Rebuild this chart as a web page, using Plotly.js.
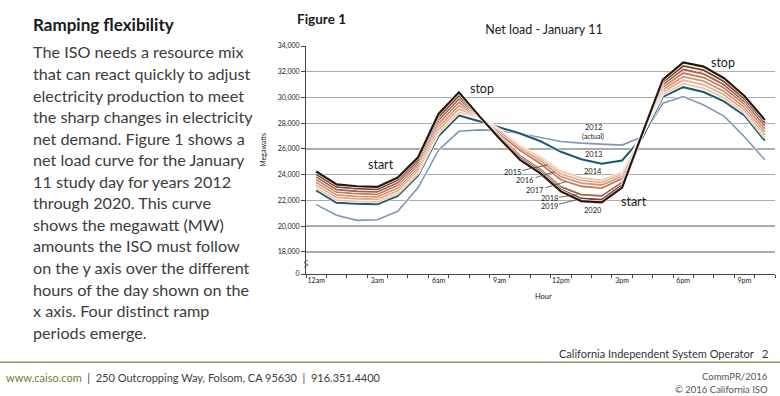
<!DOCTYPE html>
<html>
<head>
<meta charset="utf-8">
<script src="https://cdn.plot.ly/plotly-3.0.1.min.js"></script>
<style>
html,body{margin:0;padding:0;background:#fff;}
#chart{width:780px;height:396px;}
</style>
</head>
<body>
<div id="chart"></div>
<script>
// ---- data ----
const hours = [0,1,2,3,4,5,6,7,8,9,10,11,12,13,14,15,16,17,18,19,20,21,22];
const tickHours = [0,3,6,9,12,15,18,21];
const tickLabels = ['12am','3am','6am','9am','12pm','3pm','6pm','9pm'];
const yTickVals = [16280,18000,20000,22000,24000,26000,28000,30000,32000,34000];
const yTickText = ['0','18,000','20,000','22,000','24,000','26,000','28,000','30,000','32,000','34,000'];

const years = ['2012','2013','2014','2015','2016','2017','2018','2019','2020'];
const y2012 = [21670,20850,20450,20500,21150,23000,25900,27370,27480,27420,27200,26900,26580,26450,26380,26300,26950,29550,30070,29420,28550,26950,25160];
const y2013 = [22780,21820,21740,21700,22350,23940,27000,28600,28150,27700,27200,26600,25780,25200,24850,25100,26900,30050,30800,30420,29700,28600,26650];
const y2014 = [22990,22020,21930,21890,22550,24140,27250,28860,28450,27500,26250,25350,24250,23750,23550,24150,27150,30240,31070,30700,29960,28820,26880];
const y2015 = [23200,22230,22130,22090,22760,24340,27490,29110,28470,27380,26150,25200,24050,23550,23380,24000,27170,30430,31350,30990,30210,29030,27110];
const y2016 = [23410,22430,22320,22280,22960,24540,27740,29370,28490,27250,26050,25050,23850,23350,23200,23850,27190,30620,31620,31270,30470,29250,27340];
const y2017 = [23620,22640,22520,22470,23170,24750,27980,29630,28510,27120,25900,24850,23600,23100,22950,23700,27200,30810,31900,31550,30730,29470,27570];
const y2018 = [23830,22840,22710,22670,23370,24950,28230,29890,28520,27000,25450,24400,23050,22450,22350,23400,27210,31000,32170,31830,30990,29690,27800];
const y2019 = [24040,23050,22910,22860,23580,25150,28480,30140,28540,26900,25300,24250,22850,22150,22050,23200,27220,31190,32450,32120,31240,29900,28030];
const y2020 = [24250,23250,23100,23050,23780,25350,28720,30400,28550,26800,25150,24100,22700,21950,21850,23000,27230,31380,32720,32400,31500,30120,28260];

const seriesValues = [y2012,y2013,y2014,y2015,y2016,y2017,y2018,y2019,y2020];
const seriesColors = ['#7e97b8','#1b5a72','#f0c6aa','#e4ab8c','#d79272','#c57a5c','#a85f45','#74402d','#2a150b'];
const seriesWidths = [1.6,2,1.8,1.8,1.8,1.8,1.8,1.8,2.2];

// ---- layout geometry (pixels) ----
const W = 780, H = 396;
const L = 306, R = 775, T = 46, B = 274.5;
const px = x => (x - L) / (R - L);
const py = y => (B - y) / (B - T);

const FONT = 'Lato, "Open Sans", sans-serif';

const traces = [];
for (let i = 0; i < years.length; i++) {
  traces.push({
    x: hours, y: seriesValues[i], type: 'scatter', mode: 'lines',
    line: {color: '#ffffff', width: seriesWidths[i] + 1.2},
    hoverinfo: 'skip', showlegend: false
  });
  traces.push({
    x: hours, y: seriesValues[i], type: 'scatter', mode: 'lines', name: years[i],
    line: {color: seriesColors[i], width: seriesWidths[i]},
    showlegend: false
  });
}

const paraLines = [
  'The ISO needs a resource mix',
  'that can react quickly to adjust',
  'electricity production to meet',
  'the sharp changes in electricity',
  'net demand. Figure 1 shows a',
  'net load curve for the January',
  '11 study day for years 2012',
  'through 2020. This curve',
  'shows the megawatt (MW)',
  'amounts the ISO must follow',
  'on the y axis over the different',
  'hours of the day shown on the',
  'x axis. Four distinct ramp',
  'periods emerge.'
];

const ann = [];
function txt(text, x, y, size, opts) {
  ann.push(Object.assign({
    text: text, xref: 'paper', yref: 'paper', x: px(x), y: py(y),
    xanchor: 'left', yanchor: 'middle', showarrow: false,
    font: {family: FONT, size: size, color: '#2b2b2b'}
  }, opts || {}));
}
txt('<b>Ramping flexibility</b>', 31, 24, 17, {font: {family: FONT, size: 17, color: '#1a1a1a'}});
paraLines.forEach((s, i) => txt(s, 31, 52 + i * 21.6, 16.2, {font: {family: FONT, size: 16.2, color: '#3c3c3c'}}));

txt('<b>Figure 1</b>', 295, 19, 13.5, {font: {family: FONT, size: 13.5, color: '#1a1a1a'}});

// axis titles
txt('Megawatts', 263, 150, 7, {xanchor: 'center', textangle: -90, font: {family: FONT, size: 7, color: '#222'}});
txt('Hour', 543, 297, 7.5, {xanchor: 'center', font: {family: FONT, size: 7.5, color: '#222'}});

// in-chart labels
const dx = x => (x - L) / (R - L) * 23 - 0.5;
const dv = y => 34000 - (y - T) * (34000 - 16280) / (B - T);
function lab(text, x, y, size) {
  ann.push({text: text, xref: 'x', yref: 'y', x: dx(x), y: dv(y), showarrow: false,
    xanchor: 'center', yanchor: 'middle', font: {family: FONT, size: size, color: '#1a1a1a'}});
}
lab('start', 381, 165, 12.5);
lab('stop', 482, 89, 12.5);
lab('start', 634, 202, 12.5);
lab('stop', 723, 63, 12.5);
lab('2012', 593, 128, 7.5);
lab('(actual)', 593, 137, 7);
lab('2013', 593, 155, 7.5);
lab('2014', 593, 172, 7.5);
lab('2020', 593, 211, 7.5);
function lead(text, tipX, tipY, tx, ty) {
  ann.push({text: text, xref: 'x', yref: 'y', x: dx(tipX), y: dv(tipY),
    ax: tx - tipX, ay: ty - tipY, showarrow: true, arrowhead: 0, arrowwidth: 0.8,
    arrowcolor: '#444', standoff: 0,
    font: {family: FONT, size: 7.5, color: '#1a1a1a'}});
}
lead('2015', 548, 165, 512, 173);
lead('2016', 555, 172, 525, 181);
lead('2017', 566, 182, 535, 191);
lead('2018', 577, 195, 549, 199);
lead('2019', 577, 200, 549, 207);

// footer
txt('California Independent System Operator&nbsp;&nbsp;&nbsp;2', 770, 354, 11, {xanchor: 'right', font: {family: FONT, size: 11, color: '#333'}});
txt('<span style="color:#6d7f2e">www.caiso.com</span>&nbsp;&nbsp;|&nbsp;&nbsp;250 Outcropping Way, Folsom, CA 95630&nbsp;&nbsp;|&nbsp;&nbsp;916.351.4400', 4, 378, 11, {font: {family: FONT, size: 11, color: '#3c3c3c'}});
txt('CommPR/2016', 770, 377, 9.5, {xanchor: 'right', font: {family: FONT, size: 9.5, color: '#555'}});
txt('\u00A9 2016 California ISO', 770, 390, 9.5, {xanchor: 'right', font: {family: FONT, size: 9.5, color: '#555'}});

const shapes = [
  {type: 'line', xref: 'paper', yref: 'paper', x0: px(0), x1: px(780), y0: py(363), y1: py(363),
   line: {color: '#8a9a5b', width: 1.5}},
  {type: 'path', xref: 'paper', yref: 'paper',
   path: `M ${px(304)} ${py(268)} L ${px(308)} ${py(265.5)} L ${px(304)} ${py(263)} L ${px(308)} ${py(260.5)}`,
   line: {color: '#444', width: 0.8}}
];

const layout = {
  width: W, height: H,
  margin: {l: L, r: W - R, t: T, b: H - B},
  paper_bgcolor: '#ffffff', plot_bgcolor: '#ffffff',
  showlegend: false,
  title: {text: 'Net load - January 11', x: 544 / W, xanchor: 'center', y: 1 - 30 / H, yanchor: 'middle',
          xref: 'container', yref: 'container',
          font: {family: FONT, size: 12.5, color: '#1a1a1a'}},
  xaxis: {
    range: [-0.5, 22.5], tickmode: 'array', tickvals: tickHours, ticktext: tickLabels,
    ticks: '', showgrid: false, zeroline: false, showline: true, linecolor: '#444', linewidth: 1,
    tickfont: {family: FONT, size: 7, color: '#222'},
    minor: {ticks: 'outside', ticklen: 3, tick0: -0.5, dtick: 1, tickcolor: '#444', showgrid: false}
  },
  yaxis: {
    range: [16280, 34000], tickmode: 'array', tickvals: yTickVals, ticktext: yTickText,
    ticks: 'outside', ticklen: 4, tickcolor: '#444',
    showgrid: true, gridcolor: '#ababab', gridwidth: 1.3, zeroline: false,
    showline: true, linecolor: '#444', linewidth: 1,
    tickfont: {family: FONT, size: 7, color: '#222'}
  },
  annotations: ann,
  shapes: shapes
};

Plotly.newPlot('chart', traces, layout, {displayModeBar: false, staticPlot: true});
</script>
</body>
</html>
